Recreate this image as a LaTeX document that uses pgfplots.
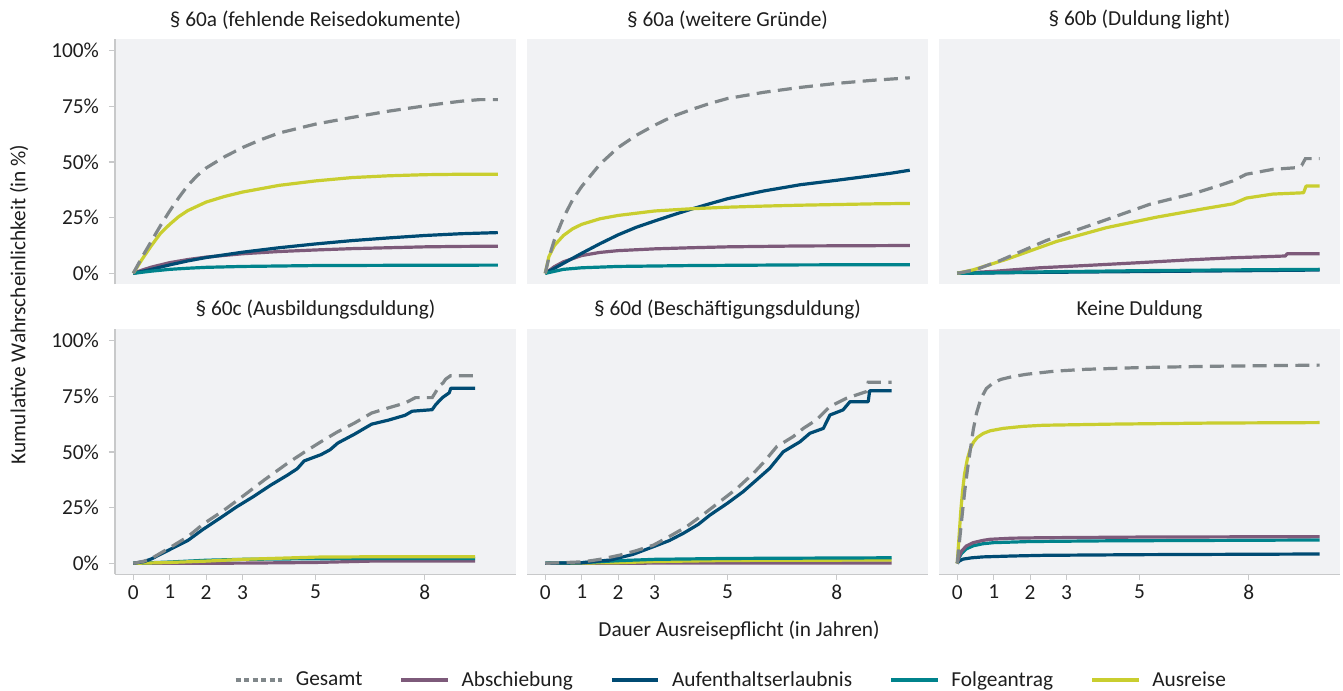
\documentclass[border=0pt]{standalone}
\usepackage{fontspec}
\setmainfont{Carlito}
\usepackage{pgfplots}
\pgfplotsset{compat=1.18}

\definecolor{cGes}{HTML}{80878A}
\definecolor{cAbs}{HTML}{7D5A7A}
\definecolor{cAuf}{HTML}{004B73}
\definecolor{cFol}{HTML}{00838C}
\definecolor{cAus}{HTML}{C9CE2F}
\definecolor{bgcol}{HTML}{F1F2F4}
\definecolor{axgray}{HTML}{C8C9CA}
\definecolor{txt}{HTML}{1E1E1E}

\newcommand{\fs}{\fontsize{16}{19}\selectfont}

\pgfplotsset{
  panel/.style={
    scale only axis, width=300.75pt, height=183.75pt, anchor=south west,
    xmin=-0.5, xmax=10.5, ymin=-5, ymax=105,
    axis lines*=left,
    axis line style={draw=axgray, line width=0.9pt},
    tick style={draw=axgray, line width=0.9pt},
    major tick length=4.5pt, tick align=outside,
    axis background/.style={fill=bgcol},
    xtick={0,1,2,3,5,8}, xticklabels={0,1,2,3,5,8},
    ytick={0,25,50,75,100}, yticklabels={0\%,25\%,50\%,75\%,100\%},
    ticklabel style={font=\fs, text=txt},
    yticklabel style={xshift=-4pt},
    title style={at={(0.5,1)}, anchor=center, yshift=8.7pt, font=\fs, text=txt, inner sep=0pt},
  },
  noxax/.style={xtick=\empty, x axis line style={draw=none}},
  noyax/.style={ytick=\empty, y axis line style={draw=none}},
  sGes/.style={cGes, line width=2.4pt, dash pattern=on 10.5pt off 5.5pt},
  sAbs/.style={cAbs, line width=2.4pt, line join=round},
  sAuf/.style={cAuf, line width=2.4pt, line join=round},
  sFol/.style={cFol, line width=2.4pt, line join=round},
  sAus/.style={cAus, line width=2.4pt, line join=round},
}

\begin{document}
\begin{tikzpicture}
\path[use as bounding box] (0,0) rectangle (1007.25pt,518.25pt);

% ---- top row ----
\begin{axis}[panel, noxax, at={(86.25pt,304.875pt)},
  title={§ 60a (fehlende Reisedokumente)}]
\addplot[sAbs] coordinates {(0,0) (0.25,1.5) (0.5,2.8) (1,4.8) (1.5,6.2) (2,7.3) (3,8.8) (4,9.8) (5,10.5) (6,11.1) (7,11.5) (8,11.9) (9,12.1) (10,12.2)};
\addplot[sAuf] coordinates {(0,0) (0.5,1.8) (1,3.8) (1.5,5.6) (2,7.1) (3,9.5) (4,11.5) (5,13.2) (6,14.7) (7,15.9) (8,17) (9,17.8) (10,18.3)};
\addplot[sFol] coordinates {(0,0) (0.5,1) (1,1.8) (1.5,2.3) (2,2.7) (3,3.1) (4,3.3) (5,3.5) (7,3.6) (10,3.7)};
\addplot[sAus] coordinates {(0,0) (0.25,6.5) (0.5,12.5) (0.75,18) (1,22) (1.25,25.5) (1.5,28.2) (2,32) (2.5,34.5) (3,36.5) (4,39.5) (5,41.5) (6,43) (7,43.8) (8,44.3) (9,44.5) (10,44.5)};
\addplot[sGes] coordinates {(0,0) (0.25,7.5) (0.5,14.5) (0.75,21.5) (1,28) (1.25,34) (1.5,39.5) (1.75,43.8) (2,47.3) (2.5,52.3) (3,56.5) (3.5,60) (4,63) (4.5,65) (5,67) (6,70) (7,72.8) (8,75.2) (8.5,76.3) (9,77.3) (9.5,78) (10,78)};
\end{axis}

\begin{axis}[panel, noxax, noyax, at={(395.25pt,304.875pt)},
  title={§ 60a (weitere Gründe)}]
\addplot[sAbs] coordinates {(0,0) (0.25,3) (0.5,5.2) (1,8) (1.5,9.4) (2,10.2) (3,11) (4,11.5) (5,11.9) (7,12.3) (10,12.5)};
\addplot[sAuf] coordinates {(0,0) (0.5,4.5) (1,9) (1.5,13.3) (2,17.3) (2.5,20.7) (3,23.5) (3.5,26.2) (4,28.8) (4.5,31.2) (5,33.5) (5.5,35.3) (6,37) (7,39.8) (8,41.8) (9,43.9) (9.5,45) (10,46.3)};
\addplot[sFol] coordinates {(0,0) (0.5,1.8) (1,2.5) (2,3.1) (4,3.5) (7,3.8) (10,3.9)};
\addplot[sAus] coordinates {(0,0) (0.1,7.5) (0.25,12.5) (0.5,17) (0.75,20) (1,22) (1.5,24.5) (2,26) (3,28) (4,29) (5,29.7) (6,30.2) (7,30.6) (8,30.9) (9,31.2) (10,31.4)};
\addplot[sGes] coordinates {(0,0) (0.1,7) (0.25,15) (0.5,25) (0.75,33) (1,39) (1.5,49) (2,56.5) (2.5,62) (3,66.5) (3.5,70.5) (4,73.5) (4.5,76.2) (5,78.5) (6,81.3) (7,83.5) (8,85.3) (9,86.7) (10,87.8)};
\end{axis}

\begin{axis}[panel, noxax, noyax, at={(704.25pt,304.875pt)},
  title={§ 60b (Duldung light)}]
\addplot[sAbs] coordinates {(0,0) (1,0.9) (2.26,2.5) (3.5,3.5) (5,4.8) (6.3,6) (7.56,7) (8.5,7.5) (9.0,7.8) (9.05,8.8) (9.94,8.8)};
\addplot[sAuf] coordinates {(0,0) (2,0.4) (5,0.8) (8,1.2) (9.94,1.5)};
\addplot[sFol] coordinates {(0,0) (2,0.6) (5,1.2) (8,1.6) (9.94,1.8)};
\addplot[sAus] coordinates {(0,0) (0.44,1.6) (1.35,6.3) (2.72,14.3) (4.09,20.5) (5.46,25.2) (6.83,29.2) (7.56,31.2) (7.93,33.8) (8.66,35.6) (9.39,36.1) (9.5,36.2) (9.57,39.2) (9.94,39.2)};
\addplot[sGes] coordinates {(0,0) (0.5,1.6) (1.17,5.7) (2.45,14.8) (3.9,23) (5.28,31) (6.56,36.2) (7.2,39.5) (7.56,41.5) (7.93,44.5) (8.66,46.7) (9.35,47.5) (9.45,48.5) (9.55,51.5) (9.94,51.5)};
\end{axis}

% ---- bottom row ----
\begin{axis}[panel, at={(86.25pt,87.375pt)},
  title={§ 60c (Ausbildungsduldung)}]
\addplot[sAbs] coordinates {(0,0) (3,0.1) (5,0.4) (6.5,1) (9.38,1)};
\addplot[sFol] coordinates {(0,0) (1,0.6) (2,1.4) (3,1.8) (5,2.1) (9.38,2.2)};
\addplot[sAus] coordinates {(0,0) (1,0.4) (2,1) (3,1.8) (5,2.8) (7,3) (9.38,3)};
\addplot[sAuf] coordinates {(0,0) (0.3,0.8) (0.5,2) (0.98,6) (1.5,10.3) (1.91,15.2) (2.4,20.5) (2.83,25.3) (3.3,30) (3.76,35) (4.22,39.5) (4.5,42.5) (4.69,46) (5.15,48.8) (5.4,51) (5.61,54) (6.07,58) (6.54,62.5) (7.0,64.3) (7.46,66.5) (7.65,68.3) (8.2,69) (8.3,71.3) (8.48,74.4) (8.67,76.6) (8.71,78.6) (9.38,78.6)};
\addplot[sGes] coordinates {(0,0) (0.3,1) (0.5,2.2) (0.98,6.8) (1.5,12) (1.91,17.5) (2.5,24) (3.02,30.3) (3.6,37.5) (4.22,44.8) (4.7,50) (5.15,54.6) (5.6,59) (6.07,63) (6.54,67.5) (7.0,69.8) (7.46,72) (7.74,74.4) (8.2,74.4) (8.3,77) (8.39,79.7) (8.5,81) (8.57,82.7) (8.7,84.2) (9.38,84.2)};
\end{axis}

\begin{axis}[panel, noyax, at={(395.25pt,87.375pt)},
  title={§ 60d (Beschäftigungsduldung)},
  legend style={at={(0.506,-0.4306)}, anchor=center, draw=none, fill=none,
    font=\fs, text=txt, nodes={inner sep=0pt},
    /tikz/every odd column/.append style={column sep=9pt},
    /tikz/every even column/.append style={column sep=28pt}},
  legend columns=5,
  legend image code/.code={\draw[#1] (0pt,0pt) -- (35pt,0pt);}]
\addlegendimage{cGes, line width=2.4pt, dash pattern=on 3.8pt off 2.6pt}
\addlegendentry{Gesamt}
\addlegendimage{sAbs}
\addlegendentry{Abschiebung}
\addlegendimage{sAuf}
\addlegendentry{Aufenthaltserlaubnis}
\addlegendimage{sFol}
\addlegendentry{Folgeantrag}
\addlegendimage{sAus}
\addlegendentry{Ausreise}
\addplot[sAbs, forget plot] coordinates {(0,0) (3,0.1) (9.5,0.2)};
\addplot[sAus, forget plot] coordinates {(0,0) (2,0.3) (3,0.8) (5,1.3) (9.5,1.5)};
\addplot[sFol, forget plot] coordinates {(0,0) (1,0.3) (2,1.2) (3,1.8) (5,2.2) (9.5,2.5)};
\addplot[sAuf, forget plot] coordinates {(0,0) (1.0,0.3) (1.78,1.5) (2.4,4) (2.97,7.5) (3.4,10.2) (3.79,13.5) (4.2,17.5) (4.52,21.7) (5.0,27) (5.43,32.2) (5.8,37.5) (6.16,42.7) (6.53,50.1) (6.99,54.6) (7.26,58.4) (7.63,60.6) (7.81,66.6) (8.17,68.9) (8.36,72.6) (8.86,72.6) (8.9,77.5) (9.5,77.5)};
\addplot[sGes, forget plot] coordinates {(0,0) (1.05,0.7) (1.5,1.8) (2.05,3.7) (2.5,5.7) (2.97,8.2) (3.4,12) (3.88,16.5) (4.3,21.5) (4.79,27.7) (5.25,33.5) (5.71,40.4) (6.0,45.5) (6.35,52.4) (6.8,56.9) (7.08,60.6) (7.44,64.4) (7.81,70.4) (8.26,74.1) (8.81,77.1) (8.86,81.3) (9.5,81.3)};
\end{axis}

\begin{axis}[panel, noyax, at={(704.25pt,87.375pt)},
  title={Keine Duldung}]
\addplot[sAuf] coordinates {(0,0) (0.05,1) (0.16,1.9) (0.4,2.5) (0.71,2.9) (1.5,3.3) (2.36,3.6) (5,3.9) (9.94,4.2)};
\addplot[sFol] coordinates {(0,0) (0.05,2.5) (0.12,4.5) (0.25,6.5) (0.44,7.9) (0.7,8.8) (1,9.3) (2,9.8) (4,10.1) (9.94,10.5)};
\addplot[sAbs] coordinates {(0,0) (0.05,3) (0.12,5.5) (0.25,7.8) (0.44,9.3) (0.7,10.3) (0.9,10.8) (1.5,11.3) (2.3,11.5) (5,11.8) (9.94,12)};
\addplot[sAus] coordinates {(0,0) (0.05,12) (0.1,24) (0.15,33) (0.2,40) (0.28,47) (0.36,51.5) (0.45,54.5) (0.55,56.5) (0.71,58.3) (0.9,59.5) (1.26,60.6) (1.8,61.5) (2.36,62) (4.2,62.5) (7,63) (9.94,63.2)};
\addplot[sGes] coordinates {(0,0) (0.05,8) (0.1,16) (0.15,24) (0.21,33) (0.28,42) (0.35,50) (0.44,60) (0.53,67.5) (0.65,74) (0.8,78.5) (1,81.2) (1.2,82.6) (1.5,83.8) (1.9,84.9) (2.68,86.3) (3.5,87.1) (5,87.9) (7,88.5) (9.94,89)};
\end{axis}

\node[font=\fs, text=txt, rotate=90, anchor=center, inner sep=0pt] at (14.25pt,290pt) {Kumulative Wahrscheinlichkeit (in \%)};
\node[font=\fs, text=txt, anchor=center, inner sep=0pt] at (554.25pt,45.75pt) {Dauer Ausreisepflicht (in Jahren)};
\end{tikzpicture}
\end{document}
